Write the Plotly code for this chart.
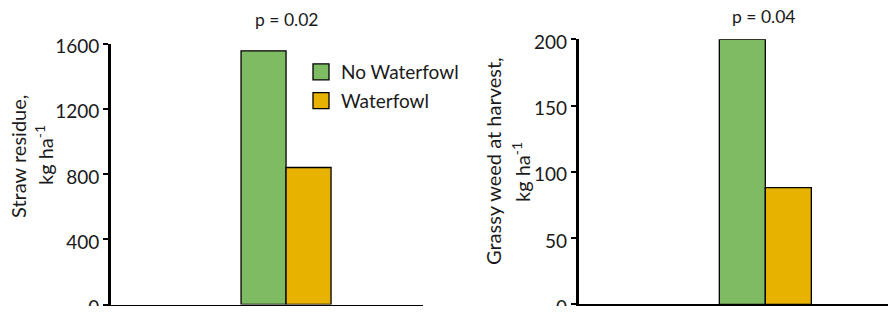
import plotly.graph_objects as go

# ---- data ----
categories = ["Rice field"]
series_names = ["No Waterfowl", "Waterfowl"]
straw_residue = [1555, 840]      # kg ha-1
grassy_weed = [200, 88]          # kg ha-1
straw_ticks = [0, 400, 800, 1200, 1600]
weed_ticks = [0, 50, 100, 150, 200]
p_values = ["p = 0.02", "p = 0.04"]
colors = ["#7FBB63", "#E8B200"]

FONT = "Lato"
# page body has an 8px margin: figure is drawn 8px in from the window edge
OFF = 8
FW, FH = 880, 298


def px(xr):
    return (xr - OFF) / FW


def py(yr):
    return 1 - (yr - OFF) / FH


fig = go.Figure()
for i, name in enumerate(series_names):
    fig.add_trace(go.Bar(
        x=categories, y=[straw_residue[i]], name=name,
        marker=dict(color=colors[i], line=dict(color="black", width=1.3)),
        xaxis="x", yaxis="y", showlegend=False, legendgroup=name,
    ))
for i, name in enumerate(series_names):
    fig.add_trace(go.Bar(
        x=categories, y=[grassy_weed[i]], name=name,
        marker=dict(color=colors[i], line=dict(color="black", width=1.3)),
        xaxis="x2", yaxis="y2", showlegend=False, legendgroup=name,
    ))
# legend entries (square swatches like the reference)
for i, name in enumerate(series_names):
    fig.add_trace(go.Scatter(
        x=categories, y=[None], name=name, mode="markers",
        marker=dict(symbol="square", size=16, color=colors[i],
                    line=dict(color="black", width=1.3)),
        xaxis="x", yaxis="y", showlegend=True, legendgroup=name,
        hoverinfo="skip",
    ))

axis_common = dict(showline=True, linecolor="black", linewidth=2.7,
                   ticks="outside", tickcolor="black", tickwidth=1.5, ticklen=5,
                   showgrid=False, zeroline=False, automargin=False,
                   ticklabeloverflow="allow", ticklabelshift=3,
                   tickfont=dict(family=FONT, size=19, color="#1a1a1a"))
xaxis_common = dict(type="category", showline=True, linecolor="black",
                    linewidth=2.7, showticklabels=False, ticks="",
                    showgrid=False, automargin=False)

fig.update_layout(
    width=FW, height=FH,
    margin=dict(l=0, r=0, t=0, b=0, autoexpand=False),
    paper_bgcolor="white", plot_bgcolor="white",
    barmode="group", bargap=0.4, bargroupgap=0,
    font=dict(family=FONT, color="#1a1a1a"),
    xaxis=dict(domain=[px(111), px(423)], range=[-1.167, 0.913],
               anchor="y", **xaxis_common),
    yaxis=dict(domain=[py(304.5), py(43.5)], range=[0, 1600],
               tickvals=straw_ticks, anchor="x", **axis_common),
    xaxis2=dict(domain=[px(578.7), 1.0], range=[-1.217, 0.800],
                anchor="y2", **xaxis_common),
    yaxis2=dict(domain=[py(304.3), py(39.3)], range=[0, 200],
                tickvals=weed_ticks, anchor="x2", **axis_common),
    legend=dict(x=px(301), y=py(53), xanchor="left", yanchor="top",
                font=dict(family=FONT, size=19, color="#1a1a1a"),
                bgcolor="rgba(0,0,0,0)", traceorder="grouped",
                tracegroupgap=1, itemsizing="trace"),
)

ann_font = dict(family=FONT, size=19, color="#1a1a1a")
annotations = [
    dict(text=p_values[0], x=px(287), y=py(19.5), font=dict(size=17.5)),
    dict(text=p_values[1], x=px(764), y=py(16.5), font=dict(size=17.5)),
    dict(text="Straw residue,", x=px(18), y=py(157), textangle=-90),
    dict(text="kg ha<sup>-1</sup>", x=px(44), y=py(155), textangle=-90),
    dict(text="Grassy weed at harvest,", x=px(493), y=py(161), textangle=-90),
    dict(text="kg ha<sup>-1</sup>", x=px(521), y=py(172), textangle=-90),
]
for a in annotations:
    f = dict(ann_font)
    f.update(a.pop("font", {}))
    if a.get("textangle") == -90:
        f["size"] = 20
    fig.add_annotation(xref="paper", yref="paper", xanchor="center",
                       yanchor="middle", showarrow=False, font=f, **a)

fig.write_html("out.html")
